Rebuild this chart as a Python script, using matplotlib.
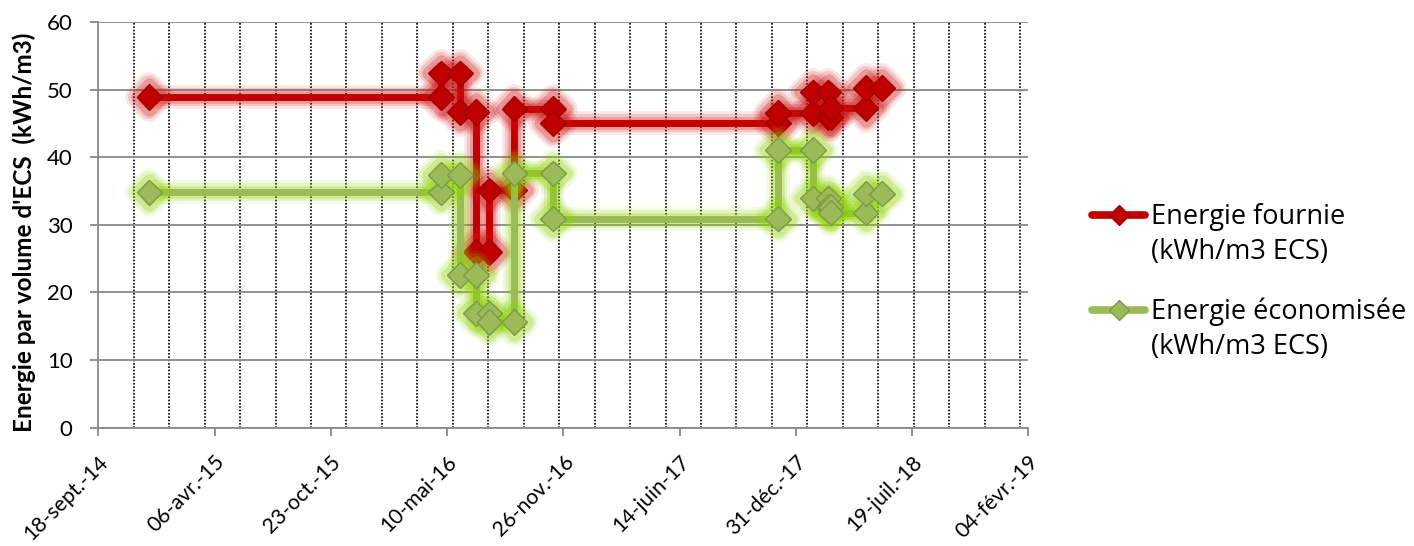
import numpy as np
import matplotlib
matplotlib.use('Agg')
from matplotlib import pyplot as plt
import matplotlib.dates as mdates
import matplotlib.patheffects as pe
from matplotlib.lines import Line2D
from matplotlib.ticker import FixedLocator

plt.rcParams['font.family'] = ['Lato', 'DejaVu Sans']

# dates of the meter readings (each value holds between two readings)
bounds = ['2014-12-15', '2016-04-30', '2016-06-01', '2016-06-29', '2016-07-22',
          '2016-09-03', '2016-11-08', '2017-11-30', '2018-01-30', '2018-02-25',
          '2018-03-01', '2018-04-30', '2018-05-28']
fournie = [48.9, 52.4, 46.7, 26.0, 35.1, 47.2, 45.0, 46.5, 49.6, 45.9, 47.3, 50.2]
economisee = [34.8, 37.35, 22.6, 16.9, 15.6, 37.6, 30.9, 41.05, 33.9, 32.6, 31.8, 34.6]

tick_labels = ['18-sept.-14', '06-avr.-15', '23-oct.-15', '10-mai-16', '26-nov.-16',
               '14-juin-17', '31-déc.-17', '19-juil.-18', '04-févr.-19']
label_fournie = 'Energie fournie\n(kWh/m3 ECS)'
label_eco = 'Energie économisée\n(kWh/m3 ECS)'
ylabel = "Energie par volume d'ECS  (kWh/m3)"

red = '#C00000'
green = '#9BBB59'


def steps(vals):
    d = np.array(bounds, dtype='datetime64[D]')
    x, y = [], []
    for i, v in enumerate(vals):
        x += [d[i], d[i + 1]]
        y += [v, v]
    return x, y


def glow(col):
    return [pe.Stroke(linewidth=17, foreground=col, alpha=0.10, joinstyle='round', capstyle='round'),
            pe.Stroke(linewidth=13, foreground=col, alpha=0.15, joinstyle='round', capstyle='round'),
            pe.Stroke(linewidth=9, foreground=col, alpha=0.25, joinstyle='round', capstyle='round'),
            pe.Normal()]


fig = plt.figure(figsize=(14.14, 5.46), dpi=100)
ax = fig.add_axes([0.0695, 0.217, 0.6577, 0.7427])

x1, y1 = steps(fournie)
ax.plot(x1, y1, color=red, lw=5, marker='D', ms=13, mfc=red, mec='#A00000', mew=1,
        solid_capstyle='round', solid_joinstyle='round', zorder=3,
        path_effects=glow('#D01010'))
x2, y2 = steps(economisee)
ax.plot(x2, y2, color=green, lw=5, marker='D', ms=13, mfc=green, mec='#7E9A48', mew=1,
        solid_capstyle='round', solid_joinstyle='round', zorder=4,
        path_effects=glow('#8FD400'))

start = np.datetime64('2014-09-18')
end = np.datetime64('2019-02-04')
ax.set_xlim(mdates.date2num(start), mdates.date2num(end))
ax.set_ylim(0, 60)
ax.set_yticks(np.arange(0, 61, 10))

major = [mdates.date2num(start + np.timedelta64(200 * k, 'D')) for k in range(len(tick_labels))]
ax.xaxis.set_major_locator(FixedLocator(major))
ax.set_xticklabels(tick_labels, rotation=45, ha='right', va='top', rotation_mode='anchor')
minor = [mdates.date2num(start + np.timedelta64(61 * k, 'D')) for k in range(1, 27)]
ax.xaxis.set_minor_locator(FixedLocator(minor))

ax.set_axisbelow(True)
ax.grid(axis='y', which='major', color='#888888', lw=1.3)
ax.grid(axis='x', which='minor', color='black', lw=1.2, ls=(0, (1, 1)))
ax.grid(axis='x', which='major', visible=False)

for s in ['top', 'right']:
    ax.spines[s].set_visible(False)
for s in ['left', 'bottom']:
    ax.spines[s].set_color('#888888')
    ax.spines[s].set_linewidth(1.3)
ax.tick_params(which='major', color='#888888', length=5.5, width=1.3, labelsize=16)
ax.tick_params(axis='x', which='major', pad=12, labelsize=15.3)
ax.tick_params(axis='y', which='major', pad=13)
ax.tick_params(which='minor', length=0)

ax.set_ylabel(ylabel, fontsize=17.5, fontweight='bold')
ax.yaxis.set_label_coords(-0.067, 0.481)

# legend on the right
W, H = 1414, 546
for lab, col, edge, yy in [(label_fournie, red, '#A00000', 215), (label_eco, green, '#7E9A48', 310)]:
    fy = 1 - yy / H
    fig.add_artist(Line2D([1092 / W, 1145 / W], [fy, fy], transform=fig.transFigure,
                          color=col, lw=5.5, solid_capstyle='round'))
    fig.add_artist(Line2D([1118.5 / W], [fy], transform=fig.transFigure, marker='D', ms=10,
                          mfc=col, mec=edge, mew=1, lw=0))
    for i, line in enumerate(lab.split('\n')):
        fig.text(1151 / W, 1 - (yy + 2 + 35 * i) / H, line, fontsize=19.5, va='center',
                 ha='left', family=['Open Sans', 'DejaVu Sans'])

fig.savefig('out.png', dpi=100)
